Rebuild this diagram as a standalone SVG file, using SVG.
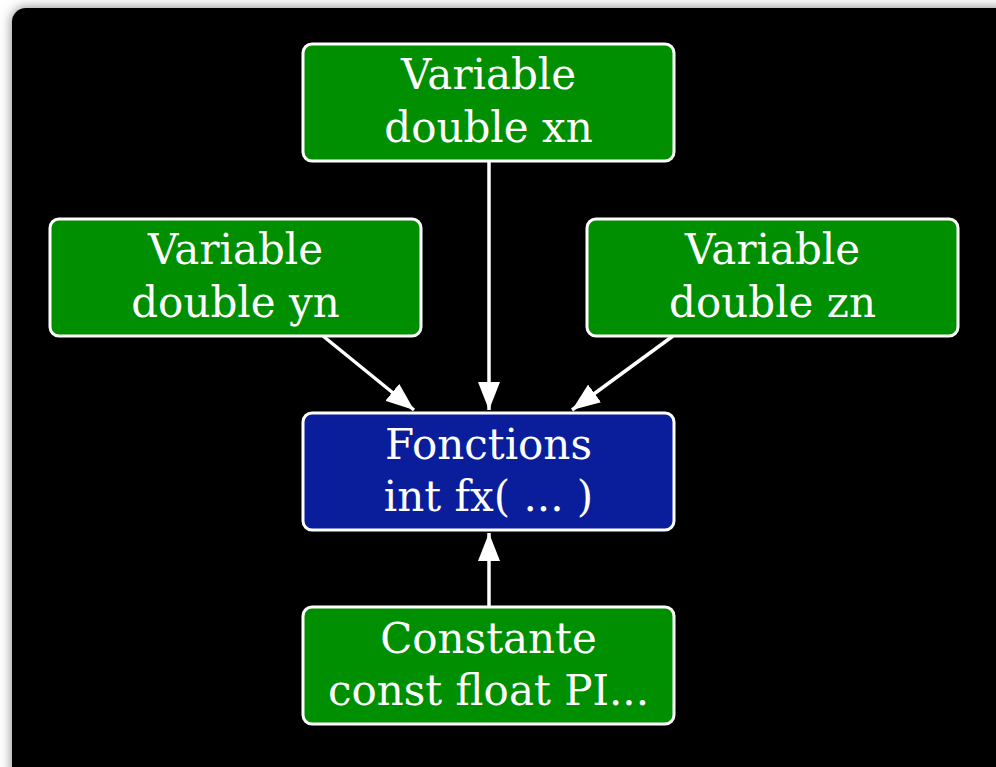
<svg xmlns="http://www.w3.org/2000/svg" width="996" height="767" viewBox="0 0 996 767">
  <defs>
    <filter id="shadow" x="-5%" y="-5%" width="110%" height="110%">
      <feDropShadow dx="0" dy="0" stdDeviation="6" flood-color="#000" flood-opacity="0.5"/>
    </filter>
    <marker id="arrow" viewBox="0 0 28 22" refX="28" refY="11" markerWidth="28" markerHeight="22" markerUnits="userSpaceOnUse" orient="auto">
      <path d="M0,0 L28,11 L0,22 Z" fill="#fff"/>
    </marker>
    <style>
      .box { stroke: #fff; stroke-width: 3; }
      .var { fill: #008f00; }
      .fn { fill: #0a1e9b; }
      .label { font-family: "DejaVu Serif", "Liberation Serif", serif; font-size: 42px; fill: #fff; text-anchor: middle; }
      .edge { stroke: #fff; stroke-width: 3.5; fill: none; marker-end: url(#arrow); }
    </style>
  </defs>

  <!-- page -->
  <rect x="0" y="0" width="996" height="767" fill="#fff"/>
  <rect x="12" y="8" width="1010" height="790" rx="14" fill="#000" filter="url(#shadow)"/>

  <!-- connectors -->
  <g id="edges">
    <line class="edge" x1="489" y1="161" x2="489" y2="410"/>
    <line class="edge" x1="323" y1="336" x2="414" y2="410"/>
    <line class="edge" x1="673" y1="336" x2="572" y2="410"/>
    <line class="edge" x1="489" y1="606" x2="489" y2="533"/>
  </g>

  <g id="var-xn">
    <rect class="box var" x="303" y="44" width="371" height="117" rx="9"/>
    <text class="label" x="488.5" y="89">Variable</text>
    <text class="label" x="488.5" y="142">double xn</text>
  </g>

  <g id="var-yn">
    <rect class="box var" x="50" y="219" width="371" height="117" rx="9"/>
    <text class="label" x="235.5" y="264">Variable</text>
    <text class="label" x="235.5" y="317">double yn</text>
  </g>

  <g id="var-zn">
    <rect class="box var" x="587" y="219" width="371" height="117" rx="9"/>
    <text class="label" x="772.5" y="264">Variable</text>
    <text class="label" x="772.5" y="317">double zn</text>
  </g>

  <g id="fonctions">
    <rect class="box fn" x="303" y="413" width="371" height="117" rx="9"/>
    <text class="label" x="488.5" y="459">Fonctions</text>
    <text class="label" x="488.5" y="511">int fx( ... )</text>
  </g>

  <g id="constante">
    <rect class="box var" x="303" y="607" width="371" height="117" rx="9"/>
    <text class="label" x="488.5" y="653">Constante</text>
    <text class="label" x="488.5" y="705">const float PI...</text>
  </g>
</svg>
